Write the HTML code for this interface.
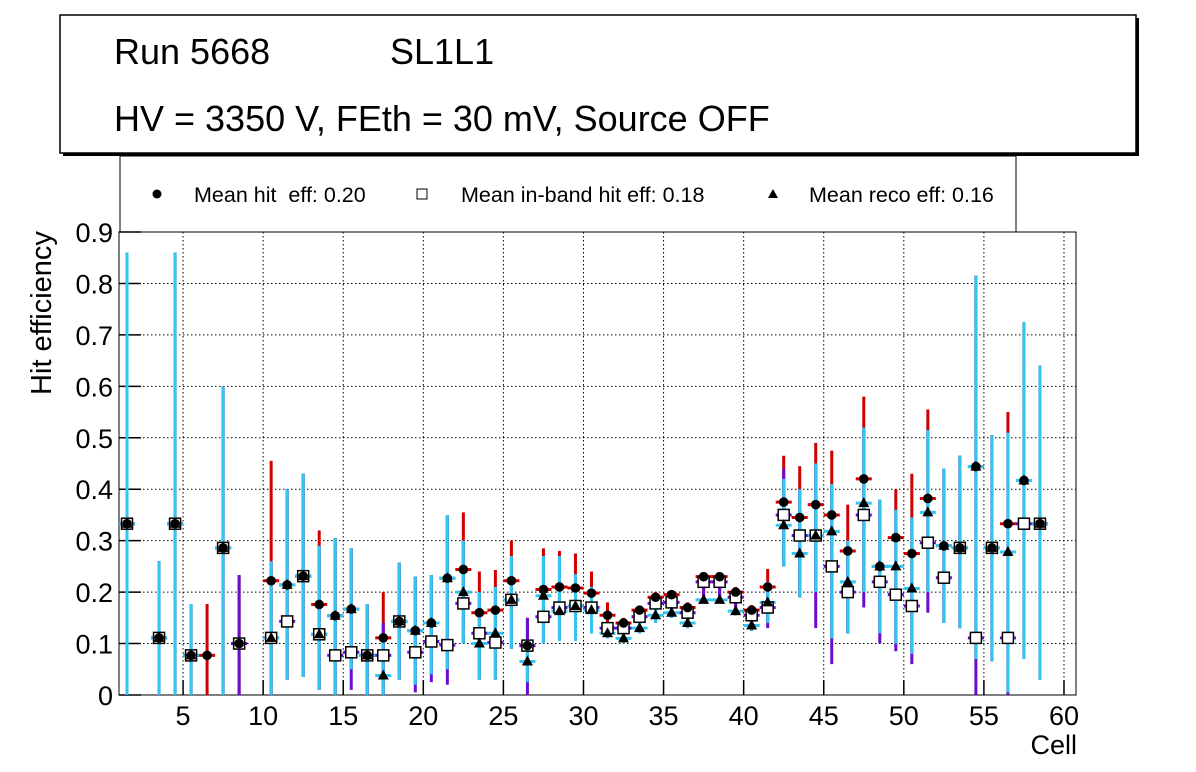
<!DOCTYPE html>
<html><head><meta charset="utf-8"><style>
html,body{margin:0;padding:0;background:#fff;}
svg{display:block;font-family:"Liberation Sans",sans-serif;}
text{white-space:pre;}
</style></head><body>
<svg id="chart" width="1196" height="772">
<g>
<rect x="63" y="18" width="1076" height="138" fill="#000"/>
<rect x="60" y="15" width="1076" height="138" fill="#fff" stroke="#000" stroke-width="1.5"/>
<text x="114" y="64" font-size="36">Run 5668</text>
<text x="390" y="64" font-size="36">SL1L1</text>
<text x="114" y="131" font-size="36">HV = 3350 V, FEth = 30 mV, Source OFF</text>
</g>
<g>
<rect x="120" y="156" width="896" height="76" fill="#fff" stroke="#000" stroke-width="1"/>
<circle cx="157" cy="194" r="4.5" fill="#000"/>
<text x="194" y="202" font-size="21.5" xml:space="preserve">Mean hit  eff: 0.20</text>
<rect x="417" y="189" width="10" height="10" fill="#fff" stroke="#000"/>
<text x="461" y="202" font-size="21.5">Mean in-band hit eff: 0.18</text>
<polygon points="773,189 778,198 768,198" fill="#000"/>
<text x="809" y="202" font-size="21.5">Mean reco eff: 0.16</text>
</g>
<g id="grid"></g><g id="axes"></g><g id="bars"></g><g id="marks"></g>
<text x="1077" y="754" font-size="27" text-anchor="end">Cell</text>
<text transform="translate(51,313) rotate(-90)" font-size="29" text-anchor="middle">Hit efficiency</text>
</svg>
<script>
const cells=[1,3,4,5,6,7,8,10,11,12,13,14,15,16,17,18,19,20,21,22,23,24,25,26,27,28,29,30,31,32,33,34,35,36,37,38,39,40,41,42,43,44,45,46,47,48,49,50,51,52,53,54,55,56,57,58];
const hitEff=[.333,.111,.333,.077,.077,.286,.1,.222,.214,.231,.176,.154,.167,.077,.111,.143,.125,.14,.227,.244,.16,.165,.222,.096,.205,.21,.208,.198,.155,.14,.165,.19,.195,.17,.23,.23,.2,.165,.21,.375,.345,.37,.35,.28,.42,.25,.306,.275,.382,.29,.286,.444,.286,.333,.417,.333];
const hitLo=[0,0,0,0,0,0,0,0,.03,.035,.01,0,.05,0,0,.03,.02,.04,.05,.1,.03,.03,.09,.025,.1,.105,.105,.12,.11,.1,.12,.14,.15,.13,.18,.18,.155,.125,.14,.25,.19,.2,.11,.12,.2,.12,.1,.08,.2,.14,.13,.07,.065,.005,.07,.03];
const hitHi=[.86,.26,.86,.177,.177,.6,.233,.455,.4,.43,.32,.305,.285,.177,.2,.257,.23,.233,.35,.355,.24,.243,.3,.15,.285,.28,.275,.24,.18,.15,.17,.2,.2,.18,.235,.235,.21,.175,.245,.465,.445,.49,.475,.37,.58,.38,.4,.43,.555,.44,.465,.815,.505,.55,.725,.64];
const inEff=[.333,.111,.333,.077,null,.286,.1,.111,.143,.231,.118,.077,.083,.077,.077,.143,.083,.104,.097,.178,.12,.102,.185,.096,.152,.17,.173,.17,.13,.13,.152,.178,.18,.16,.22,.22,.19,.155,.17,.35,.31,.31,.25,.2,.35,.22,.195,.173,.296,.228,.286,.111,.286,.111,.333,.333];
const inLo=[0,0,0,0,0,0,0,0,.03,.035,.01,0,.01,0,0,.03,.005,.025,.02,.1,.03,.03,.09,0,.1,.105,.105,.12,.11,.1,.12,.14,.15,.13,.18,.18,.155,.125,.13,.25,.19,.13,.06,.12,.17,.1,.085,.06,.16,.14,.13,0,.065,0,.07,.03];
const inHi=[.86,.26,.86,.177,.177,.6,.233,.26,.4,.43,.29,.305,.285,.177,.14,.257,.23,.233,.35,.3,.2,.21,.27,.15,.27,.27,.235,.21,.14,.14,.16,.185,.19,.17,.225,.225,.2,.16,.2,.44,.4,.45,.41,.3,.52,.38,.36,.345,.515,.44,.465,.815,.505,.51,.725,.64];
const recoEff=[.333,.111,.333,.077,null,.286,null,.111,.214,.231,.118,.154,.167,.077,.038,.143,.125,.14,.227,.2,.1,.12,.185,.065,.193,.163,.173,.165,.12,.11,.13,.155,.16,.14,.185,.185,.163,.135,.18,.33,.275,.31,.318,.22,.373,.25,.25,.207,.355,.29,.286,.444,.286,.278,.417,.333];
const recoLo=[0,0,0,0,0,0,0,0,.03,.035,.01,0,.05,0,0,.03,.02,.04,.05,.1,.03,.03,.09,.025,.1,.105,.105,.12,.11,.1,.12,.14,.15,.13,.18,.18,.155,.125,.14,.25,.19,.2,.11,.12,.2,.12,.1,.08,.2,.14,.13,.07,.065,.005,.07,.03];
const recoHi=[.86,.26,.86,.177,0,.6,0,.26,.4,.43,.29,.305,.285,.177,.11,.257,.23,.233,.35,.3,.2,.21,.27,.1,.27,.27,.235,.21,.14,.125,.14,.17,.175,.155,.19,.19,.17,.145,.22,.42,.4,.45,.41,.3,.52,.38,.36,.345,.515,.44,.465,.815,.505,.51,.725,.64];
const xTicks=[5,10,15,20,25,30,35,40,45,50,55,60];
const yTicks=[0,.1,.2,.3,.4,.5,.6,.7,.8,.9];

const L=119,R=1076,T=232,B=695,X0=1,X1=60.75,YMAX=.9;
const sx=v=>L+(v-X0)/(X1-X0)*(R-L);
const sy=v=>B-v/YMAX*(B-T);
const NS='http://www.w3.org/2000/svg';
function mk(p,tag,a){const e=document.createElementNS(NS,tag);for(const k in a)e.setAttribute(k,a[k]);document.getElementById(p).appendChild(e);return e;}

let e;
for(const t of xTicks){
 e=mk('grid','line',{x1:sx(t),x2:sx(t),y1:T,y2:B,stroke:'#000','stroke-dasharray':'1.5,2.5','stroke-width':1});
 
 
}
for(const t of yTicks){
 e=mk('grid','line',{x1:L,x2:R,y1:sy(t),y2:sy(t),stroke:'#000','stroke-dasharray':'1.5,2.5','stroke-width':1});
 
 
}
e=mk('axes','rect',{x:L,y:T,width:R-L,height:B-T,fill:'none',stroke:'#000','stroke-width':1});


for(const t of xTicks){
 e=mk('axes','line',{x1:sx(t),x2:sx(t),y1:B,y2:B-15,stroke:'#000','stroke-width':1.5});
 
 
 e=mk('axes','text',{x:sx(t),y:B+30,'font-size':27,'text-anchor':'middle'});
 e.textContent=t;
 
 
}
for(const t of yTicks){
 e=mk('axes','line',{x1:L,x2:L+22,y1:sy(t),y2:sy(t),stroke:'#000','stroke-width':1.5});
 
 
 e=mk('axes','text',{x:L-6,y:sy(t)+10,'font-size':27,'text-anchor':'end'});
 e.textContent=t===0?'0':t.toFixed(1);
 
 
}
const series=[[hitEff,hitLo,hitHi,'#d10000'],[inEff,inLo,inHi,'#6a0dd0'],[recoEff,recoLo,recoHi,'#33c6f0']];
series.forEach(([vals,lo,hi,col],s)=>{
 cells.forEach((c,i)=>{
  const v=vals[i]; if(v===null)return;
  const x=sx(c+0.5);
  e=mk('bars','line',{x1:x,x2:x,y1:sy(lo[i]),y2:sy(hi[i]),stroke:col,'stroke-width':3});
  
  
  e=mk('bars','line',{x1:sx(c),x2:sx(c+1),y1:sy(v),y2:sy(v),stroke:col,'stroke-width':3});
  
  
 });
});
cells.forEach((c,i)=>{
 const x=sx(c+0.5);
 if(inEff[i]!==null){
  e=mk('marks','rect',{x:x-5.5,y:sy(inEff[i])-5.5,width:11,height:11,fill:'#fff',stroke:'#000','stroke-width':1.5});
  
  
 }
 e=mk('marks','circle',{cx:x,cy:sy(hitEff[i]),r:4.8,fill:'#000'});
 
 
 if(recoEff[i]!==null){
  const y=sy(recoEff[i]);
  e=mk('marks','polygon',{points:`${x},${y-6} ${x+5.5},${y+4} ${x-5.5},${y+4}`,fill:'#000'});
  
  
 }
});
</script>
</body></html>
